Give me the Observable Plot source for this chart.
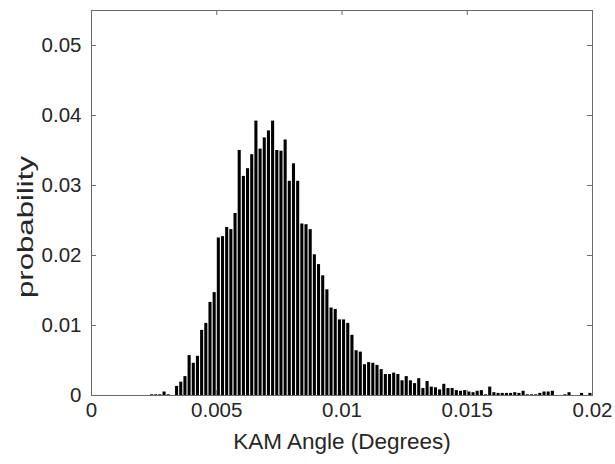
<!DOCTYPE html>
<html>
<head>
<meta charset="utf-8">
<script src="https://cdn.jsdelivr.net/npm/d3@7"></script>
<script src="https://cdn.jsdelivr.net/npm/@observablehq/plot@0.6"></script>
<style>
  html, body { margin: 0; padding: 0; background: #fff; }
  #chart { width: 615px; height: 464px; }
</style>
</head>
<body>
<div id="chart"></div>
<script>
// Histogram of KAM angle: 120 equal bins from 0 to 0.02
const binStart = 0;
const binEnd = 0.02;
const probability = [
  0, 0, 0, 0, 0, 0, 0, 0, 0, 0,
  0, 0, 0, 0, 0.0001, 0.0001, 0.0001, 0.0005, 0.0001, 0,
  0.0013, 0.0019, 0.0027, 0.0057, 0.0046, 0.0056, 0.0093, 0.0103, 0.0133, 0.0147,
  0.0225, 0.0227, 0.0240, 0.0237, 0.0260, 0.0350, 0.0313, 0.0324, 0.0344, 0.0392,
  0.0352, 0.0368, 0.0378, 0.0392, 0.0350, 0.0349, 0.0365, 0.0306, 0.0331, 0.0306,
  0.0245, 0.0244, 0.0237, 0.0201, 0.0187, 0.0171, 0.0151, 0.0125, 0.0123, 0.0108,
  0.0108, 0.0103, 0.0086, 0.0064, 0.0062, 0.0044, 0.0047, 0.0046, 0.0043, 0.0037,
  0.0030, 0.0030, 0.0032, 0.0030, 0.0021, 0.0027, 0.0021, 0.0017, 0.0024, 0.0010,
  0.0020, 0.0012, 0.0011, 0.0008, 0.0016, 0.0010, 0.0010, 0.0007, 0.0006, 0.0007,
  0.0005, 0.0004, 0.0006, 0.0007, 0.0001, 0.0012, 0.0004, 0.0003, 0.0003, 0.0003,
  0.0003, 0.0004, 0.0003, 0.0006, 0.0001, 0.0001, 0.0001, 0.0003, 0.0005, 0.0005,
  0.0006, 0, 0, 0.0001, 0.0004, 0, 0, 0.0003, 0, 0.0003
];
const xTicks = [0, 0.005, 0.01, 0.015, 0.02];
const xTickLabels = ["0", "0.005", "0.01", "0.015", "0.02"];
const yTicks = [0, 0.01, 0.02, 0.03, 0.04, 0.05];
const yTickLabels = ["0", "0.01", "0.02", "0.03", "0.04", "0.05"];
const xLabel = "KAM Angle (Degrees)";
const yLabel = "probability";

const nBins = probability.length;
const bw = (binEnd - binStart) / nBins;
const bins = probability.map((p, i) => ({x1: binStart + i * bw, x2: binStart + (i + 1) * bw, p}));

const W = 615, H = 464;
const mL = 91, mR = 23, mT = 10, mB = 69;
const plotW = W - mL - mR, plotH = H - mT - mB;
const tickLen = 5;
const font = "'Liberation Sans', Arial, Helvetica, sans-serif";
const textColor = "#262626";
const axisColor = "#6a6a6a";

const chart = Plot.plot({
  width: W,
  height: H,
  marginLeft: mL,
  marginRight: mR,
  marginTop: mT,
  marginBottom: mB,
  style: {fontFamily: font, background: "#fff", color: textColor},
  x: {domain: [0, 0.02], label: null},
  y: {domain: [0, 0.055], label: null},
  marks: [
    Plot.rectY(bins, {x1: "x1", x2: "x2", y: "p", fill: "#000", insetLeft: 0.55, insetRight: 0.55}),
    Plot.frame({stroke: axisColor, strokeWidth: 1}),
    // inward ticks on all four sides
    Plot.tickX(xTicks, {x: d => d, stroke: axisColor, insetTop: plotH - tickLen}),
    Plot.tickX(xTicks, {x: d => d, stroke: axisColor, insetBottom: plotH - tickLen}),
    Plot.tickY(yTicks, {y: d => d, stroke: axisColor, insetRight: plotW - tickLen}),
    Plot.tickY(yTicks, {y: d => d, stroke: axisColor, insetLeft: plotW - tickLen}),
    Plot.axisX(xTicks, {tickSize: 0, tickPadding: 7, fontSize: 20.5, fill: textColor,
      tickFormat: (d, i) => xTickLabels[i], label: null}),
    Plot.axisY(yTicks, {tickSize: 0, tickPadding: 10, fontSize: 20.5, fill: textColor,
      tickFormat: (d, i) => yTickLabels[i], label: null}),
    Plot.text([xLabel], {frameAnchor: "bottom", dy: 46, fontSize: 22.5, fill: textColor, lineAnchor: "middle"}),
    Plot.text([yLabel], {frameAnchor: "left", dx: -66, dy: 95, rotate: -90, fontSize: 22, fill: textColor,
      lineAnchor: "middle", className: "ylabel"})
  ]
});
// the reference's y label is drawn elongated along its length
d3.select(chart).selectAll(".ylabel text")
  .attr("textLength", 142)
  .attr("lengthAdjust", "spacingAndGlyphs");
document.getElementById("chart").appendChild(chart);
</script>
</body>
</html>
